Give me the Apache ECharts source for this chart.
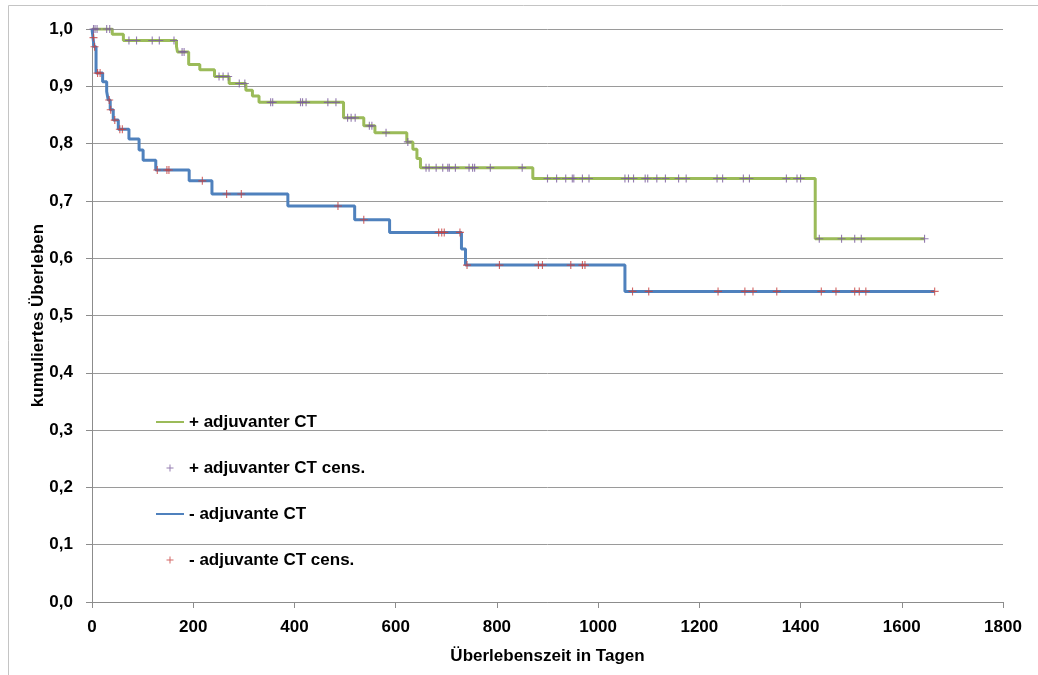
<!DOCTYPE html>
<html>
<head>
<meta charset="utf-8">
<script src="https://cdn.jsdelivr.net/npm/echarts@6/dist/echarts.min.js"></script>
<style>
  html, body { margin: 0; padding: 0; background: #fff; }
  #chart { width: 1038px; height: 675px; }
</style>
</head>
<body>
<div id="chart"></div>
<script>
// + adjuvanter CT: Stufen der Kaplan-Meier-Kurve (Tag, kumuliertes Überleben)
const mitTage = [0, 40, 62, 167, 169, 191, 213, 242, 271, 304, 317, 330, 497, 537, 559, 622, 634, 642, 649, 871, 1429, 1645]
const mitWerte = [1.0, 0.991, 0.980, 0.969, 0.960, 0.938, 0.929, 0.917, 0.905, 0.893, 0.883, 0.872, 0.845, 0.831, 0.819, 0.803, 0.790, 0.774, 0.758, 0.739, 0.634, 0.634]
// zensierte Fälle (Tag)
const mitZensiert = [3, 6, 10, 29, 35, 73, 88, 119, 133, 162, 178, 182, 251, 259, 269, 291, 302,
    353, 357, 412, 416, 423, 466, 482, 505, 512, 520, 548, 553, 581, 624,
    660, 666, 680, 693, 703, 706, 718, 745, 752, 756, 787, 850,
    900, 918, 936, 949, 952, 969, 982, 1053, 1060, 1070, 1093, 1098, 1116, 1133, 1159, 1174,
    1235, 1246, 1287, 1299, 1372, 1393, 1400, 1437, 1481, 1507, 1520, 1645]

// - adjuvante CT
const ohneTage = [0, 2, 4, 8, 21, 29, 32, 36, 42, 52, 73, 93, 101, 126, 192, 237, 387, 519, 588, 730, 738, 1053, 1665]
const ohneWerte = [1.0, 0.985, 0.969, 0.923, 0.908, 0.891, 0.876, 0.859, 0.841, 0.825, 0.808, 0.789, 0.771, 0.754, 0.735, 0.712, 0.691, 0.667, 0.645, 0.616, 0.588, 0.542, 0.542]
const ohneZensiert = [3, 5, 11, 16, 34, 37, 45, 55, 60, 129, 148, 152, 218, 266, 295, 486, 537,
    685, 691, 696, 727, 741, 805, 882, 890, 946, 969, 974, 1068, 1100,
    1237, 1290, 1306, 1353, 1441, 1470, 1507, 1516, 1529, 1665]

const xTicks = [0, 200, 400, 600, 800, 1000, 1200, 1400, 1600, 1800]

// Wert der Stufenkurve am Tag t
function stufe(tage, werte, t) {
    let v = werte[0]
    for (let i = 0; i < tage.length; i++) {
        if (tage[i] <= t) v = werte[i]
    }
    return v
}

const plus = 'path://M0,4.3H10V5.7H0Z M4.3,0H5.7V10H4.3Z'
const schrift = {fontFamily: 'Liberation Sans', fontWeight: 'bold', fontSize: 17, color: '#000'}

const chart = echarts.init(document.getElementById('chart'))
chart.setOption({
    animation: false,
    backgroundColor: '#fff',
    grid: {left: 92, right: 35, top: 29, bottom: 73},
    graphic: [{
        type: 'rect',
        shape: {x: 8.5, y: 5.5, width: 1200, height: 1000},
        style: {fill: 'none', stroke: '#c4c4c4', lineWidth: 1},
        silent: true
    }],
    legend: {
        orient: 'vertical',
        left: 150,
        top: 407,
        itemWidth: 28,
        itemHeight: 7,
        itemGap: 26,
        textStyle: Object.assign({}, schrift, {lineHeight: 20}),
        data: [
            {name: '+ adjuvanter CT', itemStyle: {opacity: 0}},
            {name: '+ adjuvanter CT cens.'},
            {name: '- adjuvante CT', itemStyle: {opacity: 0}},
            {name: '- adjuvante CT cens.'}
        ]
    },
    xAxis: {
        type: 'value',
        min: xTicks[0],
        max: xTicks[xTicks.length - 1],
        interval: 200,
        name: 'Überlebenszeit in Tagen',
        nameLocation: 'middle',
        nameGap: 46,
        nameMoveOverlap: false,
        nameTextStyle: schrift,
        axisLine: {show: true, lineStyle: {color: '#8c8c8c'}},
        axisTick: {show: true, length: 6, lineStyle: {color: '#8c8c8c'}},
        axisLabel: Object.assign({}, schrift, {
            margin: 17,
            formatter: v => String(v)
        }),
        splitLine: {show: false}
    },
    yAxis: {
        type: 'value',
        min: 0,
        max: 1,
        interval: 0.1,
        name: 'kumuliertes Überleben',
        nameLocation: 'middle',
        nameGap: 45,
        nameMoveOverlap: false,
        nameTextStyle: schrift,
        axisLine: {show: true, lineStyle: {color: '#8c8c8c'}},
        axisTick: {show: true, length: 6, lineStyle: {color: '#8c8c8c'}},
        axisLabel: Object.assign({}, schrift, {
            margin: 19,
            formatter: v => v.toFixed(1).replace('.', ',')
        }),
        splitLine: {show: true, lineStyle: {color: '#9a9a9a', width: 1}}
    },
    series: [
        {
            name: '+ adjuvanter CT',
            type: 'line',
            step: 'end',
            symbol: 'none',
            color: '#9bbb59',
            lineStyle: {width: 3, color: '#9bbb59'},
            data: mitTage.map((t, i) => [t, mitWerte[i]]),
            z: 3
        },
        {
            name: '+ adjuvanter CT cens.',
            type: 'scatter',
            symbol: plus,
            symbolSize: 8,
            itemStyle: {color: '#7a5c9e'},
            data: mitZensiert.map(t => [t, stufe(mitTage, mitWerte, t)]),
            z: 5
        },
        {
            name: '- adjuvante CT',
            type: 'line',
            step: 'end',
            symbol: 'none',
            color: '#4f81bd',
            lineStyle: {width: 3, color: '#4f81bd'},
            data: ohneTage.map((t, i) => [t, ohneWerte[i]]),
            z: 3
        },
        {
            name: '- adjuvante CT cens.',
            type: 'scatter',
            symbol: plus,
            symbolSize: 8,
            itemStyle: {color: '#c8413e'},
            data: ohneZensiert.map(t => [t, stufe(ohneTage, ohneWerte, t)]),
            z: 5
        }
    ]
})
</script>
</body>
</html>
